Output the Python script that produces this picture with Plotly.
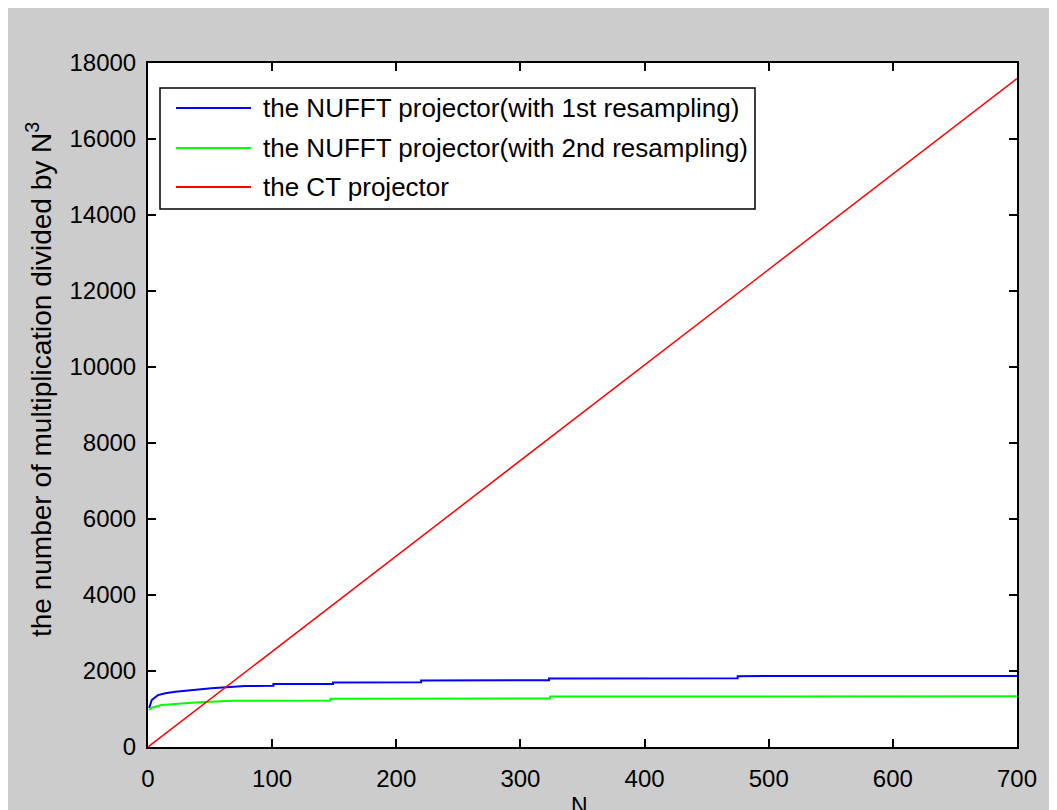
import plotly.graph_objects as go

# ---- data ----
n_blue = [1, 3, 8, 14, 22, 31, 41, 51, 69, 78, 101, 101, 149, 149, 220, 220, 323, 323, 475, 475, 700]
v_blue = [1030, 1235, 1365, 1415, 1455, 1485, 1515, 1545, 1585, 1605, 1610, 1655, 1660, 1700, 1705, 1750, 1755, 1805, 1810, 1865, 1868]

n_green = [1, 3, 11, 24, 38, 67, 147, 147, 324, 324, 700]
v_green = [975, 1035, 1105, 1145, 1170, 1215, 1222, 1270, 1278, 1330, 1334]

n_red = [0, 100, 200, 300, 400, 500, 600, 700]
v_red = [0, 2513, 5027, 7540, 10053, 12566, 15080, 17593]

names = ["the NUFFT projector(with 1st resampling)",
         "the NUFFT projector(with 2nd resampling)",
         "the CT projector"]
colors = ["#0000ff", "#00ff00", "#ff0000"]

x_ticks = [0, 100, 200, 300, 400, 500, 600, 700]
y_ticks = [0, 2000, 4000, 6000, 8000, 10000, 12000, 14000, 16000, 18000]

FONT = "Liberation Sans, Arial, sans-serif"

# page offset (body margin) and plot-area geometry in screenshot pixels
OFF = 8
L, R, T, B = 148, 1017, 63, 747
W, H = 1057, 810
def px(x):
    return (x - L) / (R - L)
def py(y):
    return (B - y) / (B - T)

fig = go.Figure()
fig.add_trace(go.Scatter(x=n_blue, y=v_blue, mode="lines", name=names[0],
                         line=dict(color=colors[0], width=2), showlegend=False))
fig.add_trace(go.Scatter(x=n_green, y=v_green, mode="lines", name=names[1],
                         line=dict(color=colors[1], width=2), showlegend=False))
fig.add_trace(go.Scatter(x=n_red, y=v_red, mode="lines", name=names[2],
                         line=dict(color=colors[2], width=1.5), showlegend=False))

shapes = []
annotations = []

# legend box
shapes.append(dict(type="rect", xref="paper", yref="paper", x0=px(160), x1=px(755), y0=py(209), y1=py(88),
                   fillcolor="white", line=dict(color="black", width=1.5), layer="above"))
rows = [108, 148, 187]
for i in range(3):
    shapes.append(dict(type="line", xref="paper", yref="paper", x0=px(176), x1=px(251),
                       y0=py(rows[i]), y1=py(rows[i]),
                       line=dict(color=colors[i], width=2), layer="above"))
    annotations.append(dict(xref="paper", yref="paper", x=px(261), y=py(rows[i]),
                            xanchor="left", yanchor="middle", showarrow=False,
                            text=names[i], font=dict(family=FONT, size=26, color="black")))

# axis titles
annotations.append(dict(xref="paper", yref="paper", x=px(39), y=py(380), textangle=-90,
                        xanchor="center", yanchor="middle", showarrow=False,
                        text="the number of multiplication divided by N<sup>3</sup>",
                        font=dict(family=FONT, size=28, color="black")))
annotations.append(dict(xref="paper", yref="paper", x=px(579), y=py(791),
                        xanchor="center", yanchor="top", showarrow=False,
                        text="N", font=dict(family=FONT, size=23, color="black")))

axis_common = dict(showgrid=False, zeroline=False, showline=True, linecolor="black", linewidth=2,
                   mirror="ticks", ticks="inside", ticklen=8, tickwidth=1.5, tickcolor="black",
                   tickfont=dict(family=FONT, size=24, color="black"))

fig.update_layout(
    width=W, height=H,
    margin=dict(l=L - OFF, r=W - (R - OFF), t=T - OFF, b=H - (B - OFF), autoexpand=False),
    paper_bgcolor="#cccccc", plot_bgcolor="white",
    xaxis=dict(range=[0, 700], tickvals=x_ticks, ticktext=[str(v) for v in x_ticks],
               ticklabelstandoff=9, **axis_common),
    yaxis=dict(range=[0, 18000], tickvals=y_ticks, ticktext=[str(v) for v in y_ticks],
               ticklabelstandoff=5, **axis_common),
    shapes=shapes, annotations=annotations, showlegend=False,
)

fig.write_html("out.html")
